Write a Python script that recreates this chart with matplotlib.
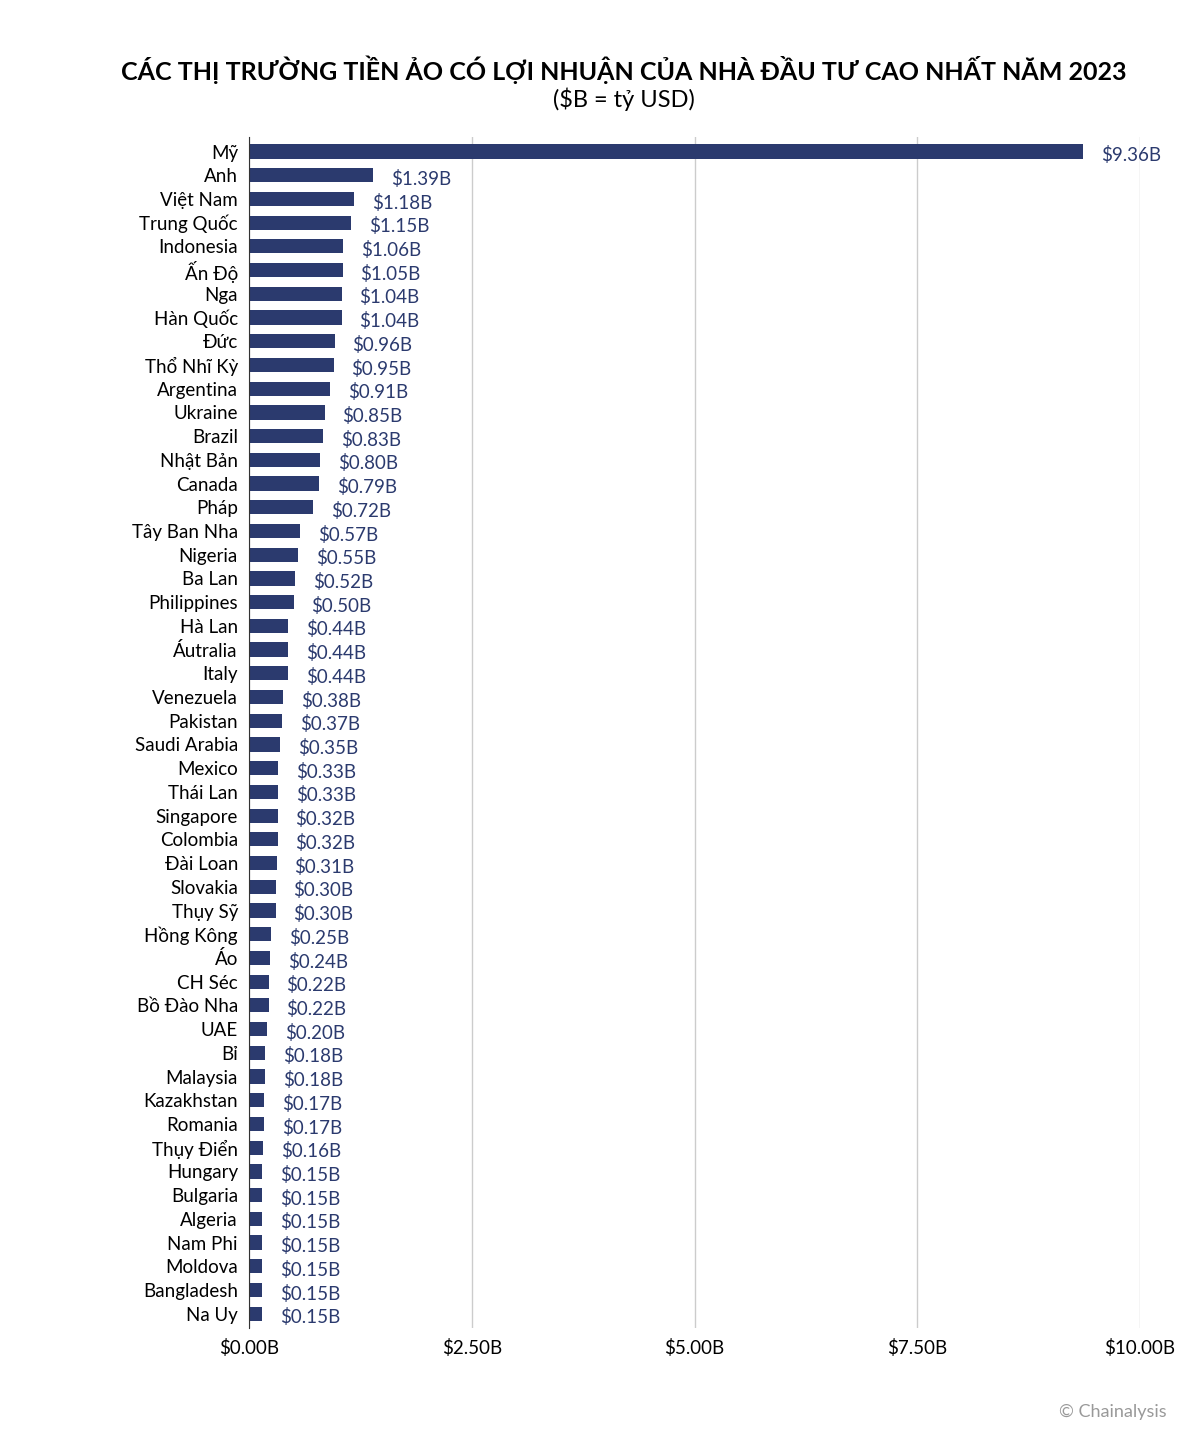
import matplotlib
matplotlib.use("Agg")
import matplotlib.pyplot as plt

countries = ["Mỹ","Anh","Việt Nam","Trung Quốc","Indonesia","Ấn Độ","Nga","Hàn Quốc","Đức","Thổ Nhĩ Kỳ",
"Argentina","Ukraine","Brazil","Nhật Bản","Canada","Pháp","Tây Ban Nha","Nigeria","Ba Lan","Philippines",
"Hà Lan","Áutralia","Italy","Venezuela","Pakistan","Saudi Arabia","Mexico","Thái Lan","Singapore","Colombia",
"Đài Loan","Slovakia","Thụy Sỹ","Hồng Kông","Áo","CH Séc","Bồ Đào Nha","UAE","Bỉ","Malaysia",
"Kazakhstan","Romania","Thụy Điển","Hungary","Bulgaria","Algeria","Nam Phi","Moldova","Bangladesh","Na Uy"]
values = [9.36,1.39,1.18,1.15,1.06,1.05,1.04,1.04,0.96,0.95,
0.91,0.85,0.83,0.80,0.79,0.72,0.57,0.55,0.52,0.50,
0.44,0.44,0.44,0.38,0.37,0.35,0.33,0.33,0.32,0.32,
0.31,0.30,0.30,0.25,0.24,0.22,0.22,0.20,0.18,0.18,
0.17,0.17,0.16,0.15,0.15,0.15,0.15,0.15,0.15,0.15]
xticks = [0, 2.5, 5, 7.5, 10]
xticklabels = ["$0.00B","$2.50B","$5.00B","$7.50B","$10.00B"]

plt.rcParams["font.family"] = "Lato"
fig = plt.figure(figsize=(12, 14.45), dpi=100)
ax = fig.add_axes([0.2075, 0.081, 0.7425, 0.824])
col = "#2b3a6e"
y = list(range(len(countries)))
ax.barh(y, values, height=0.6, color=col, zorder=3)
for yi, v in zip(y, values):
    ax.text(v + 0.2, yi + 0.15, f"${v:.2f}B", va="center", ha="left", fontsize=13.5, color=col)
ax.set_yticks(y)
ax.set_yticklabels(countries, fontsize=13.5)
ax.tick_params(axis="y", length=0, pad=8)
ax.set_ylim(len(countries) - 0.4, -0.6)
ax.set_xlim(0, 10)
ax.set_xticks(xticks)
ax.set_xticklabels(xticklabels, fontsize=13.5)
ax.tick_params(axis="x", length=0, pad=8)
ax.grid(axis="x", color="#cccccc", linewidth=1, zorder=0)
for s in ["top", "right", "bottom"]:
    ax.spines[s].set_visible(False)
ax.spines["left"].set_color("#333333")
ax.spines["left"].set_zorder(4)
fig.text(0.52, 0.952, "CÁC THỊ TRƯỜNG TIỀN ẢO CÓ LỢI NHUẬN CỦA NHÀ ĐẦU TƯ CAO NHẤT NĂM 2023",
         ha="center", va="center", fontsize=18, fontweight="bold")
fig.text(0.52, 0.931, "($B = tỷ USD)", ha="center", va="center", fontsize=17)
fig.text(0.972, 0.023, "© Chainalysis", ha="right", va="center", fontsize=13, color="#999999")
fig.savefig("out.png", dpi=100)
